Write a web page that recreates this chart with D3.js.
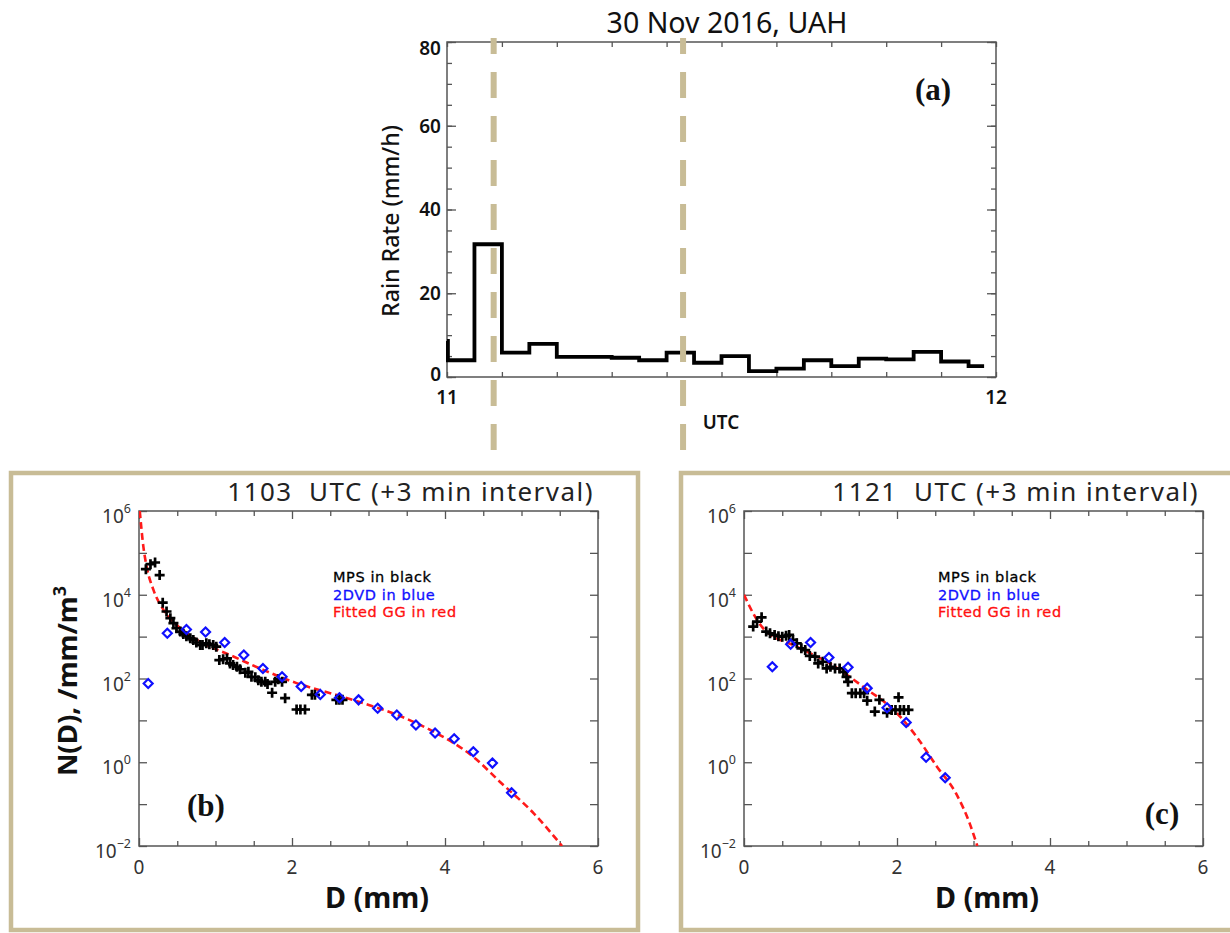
<!DOCTYPE html>
<html>
<head>
<meta charset="utf-8">
<script src="https://cdn.jsdelivr.net/npm/d3@7"></script>
<style>
  body { margin: 0; background: #fff; }
  svg { display: block; }
  text { white-space: pre; }
</style>
</head>
<body>
<svg id="fig" width="1230" height="933"></svg>
<script>
// ---------------- Panel (a): MPS rain rate, 30 Nov 2016 ----------------
const rainMinutes = [0, 0.1, 3, 6, 9, 12, 15, 18, 21, 24, 27, 30, 33, 36, 39, 42, 45, 48, 51, 54, 57, 58.7];
const rainRate    = [8.6, 4.0, 31.7, 5.8, 7.9, 4.8, 4.8, 4.6, 4.0, 5.8, 3.4, 5.0, 1.4, 2.0, 4.0, 2.6, 4.4, 4.2, 6.0, 3.7, 2.6, 2.6];
const rateTicks   = [0, 20, 40, 60, 80];
const hourTicks   = [0, 60];
const hourLabels  = ["11", "12"];
const sampleMinutes = [5.1, 25.8];   // times of the two DSD samples below

// ---------------- Panel (b): 1103 UTC ----------------
const dvdD_b    = [0.12, 0.37, 0.62, 0.87, 1.12, 1.37, 1.62, 1.87, 2.12, 2.37, 2.62, 2.87, 3.12, 3.37, 3.62, 3.87, 4.12, 4.37, 4.62, 4.87];
const dvdLogN_b = [1.88, 3.08, 3.17, 3.11, 2.86, 2.56, 2.24, 2.04, 1.81, 1.62, 1.54, 1.49, 1.29, 1.13, 0.89, 0.70, 0.56, 0.25, -0.02, -0.73];
const mpsD_b    = [0.09, 0.15, 0.21, 0.27, 0.31, 0.36, 0.41, 0.45, 0.49, 0.54, 0.58, 0.62, 0.67, 0.71, 0.75, 0.80, 0.83, 0.88, 0.92, 0.97,
                   1.01, 1.05, 1.10, 1.15, 1.19, 1.23, 1.28, 1.32, 1.39, 1.43, 1.47, 1.52, 1.56, 1.60, 1.65, 1.68, 1.74, 1.78, 1.82, 1.87,
                   1.91, 2.06, 2.11, 2.17, 2.26, 2.30, 2.58, 2.62, 2.66];
const mpsLogN_b = [4.61, 4.73, 4.77, 4.47, 3.81, 3.60, 3.44, 3.32, 3.20, 3.12, 3.06, 3.01, 2.96, 2.92, 2.86, 2.80, 2.80, 2.84, 2.82, 2.80,
                   2.76, 2.44, 2.46, 2.48, 2.36, 2.32, 2.28, 2.22, 2.14, 2.16, 2.04, 2.03, 1.96, 1.92, 1.92, 1.87, 1.66, 1.92, 1.98, 1.92,
                   1.53, 1.26, 1.26, 1.26, 1.61, 1.61, 1.49, 1.49, 1.49];
const fitD_b    = [0.01, 0.057, 0.10, 0.19, 0.32, 0.54, 0.84, 1.19, 1.63, 2.06, 2.50, 2.93, 3.32, 3.85, 4.37, 4.72, 5.16, 5.53];
const fitLogN_b = [6.0, 5.15, 4.67, 4.11, 3.64, 3.20, 2.84, 2.56, 2.20, 1.89, 1.65, 1.41, 1.17, 0.73, 0.13, -0.47, -1.22, -2.0];

// ---------------- Panel (c): 1121 UTC ----------------
const dvdD_c    = [0.37, 0.61, 0.87, 1.11, 1.36, 1.61, 1.87, 2.12, 2.38, 2.63];
const dvdLogN_c = [2.28, 2.82, 2.86, 2.50, 2.27, 1.77, 1.30, 0.95, 0.12, -0.37];
const mpsD_c    = [0.12, 0.17, 0.23, 0.29, 0.34, 0.40, 0.45, 0.50, 0.55, 0.59, 0.64, 0.69, 0.75, 0.80, 0.86, 0.93, 0.97, 1.03, 1.08, 1.13,
                   1.19, 1.25, 1.30, 1.34, 1.36, 1.41, 1.46, 1.52, 1.57, 1.61, 1.71, 1.77, 1.87, 1.93, 1.98, 2.02, 2.04, 2.09, 2.15];
const mpsLogN_c = [3.24, 3.36, 3.46, 3.12, 3.08, 3.04, 3.01, 3.00, 3.02, 3.04, 2.92, 2.84, 2.72, 2.68, 2.54, 2.52, 2.36, 2.40, 2.24, 2.28,
                   2.24, 2.24, 2.16, 2.04, 1.92, 1.65, 1.65, 1.65, 1.65, 1.47, 1.21, 1.49, 1.18, 1.25, 1.25, 1.55, 1.25, 1.25, 1.25];
const fitD_c    = [0.0, 0.17, 0.25, 0.69, 1.12, 1.56, 2.00, 2.26, 2.52, 2.77, 2.95, 3.05];
const fitLogN_c = [4.0, 3.40, 3.20, 2.76, 2.36, 1.80, 1.17, 0.60, -0.10, -0.74, -1.46, -2.0];

const dTicks      = [0, 2, 4, 6];
const dMinorTicks = [0.5, 1, 1.5, 2.5, 3, 3.5, 4.5, 5, 5.5];
const decadeLabels = [-2, 0, 2, 4, 6];
const decadeMinor  = [-1, 1, 3, 5];
const legendLines = [["MPS in black", "#000"], ["2DVD in blue", "#1010ff"], ["Fitted GG in red", "#ff1010"]];

// ---------------- styles ----------------
const SANS = "'Noto Sans', 'DejaVu Sans', sans-serif";
const SERIF = "'Liberation Serif', 'DejaVu Serif', serif";
const TAN = "#c8bc96";
const AXIS = "#555";

const svg = d3.select("#fig");

// scale a text's font size so that it spans the given width
function fitWidth(t, w) {
  const fs = parseFloat(t.attr("font-size"));
  const bw = t.node().getBBox().width;
  if (bw > 0) t.attr("font-size", (fs * w / bw).toFixed(2));
  return t;
}

// ================= Panel (a) =================
const A = {left: 447, right: 996, top: 42, bottom: 377};
const xa = d3.scaleLinear().domain([0, 60]).range([A.left, A.right]);
const ya = d3.scaleLinear().domain([0, 80]).range([A.bottom, A.top]);
const ga = svg.append("g");

// inward ticks on all four sides
const minorRate = d3.range(0, 81, 5);
ga.append("g").attr("transform", `translate(${A.left},0)`)
  .call(d3.axisLeft(ya).tickValues(minorRate).tickSize(-5).tickFormat(""));
ga.append("g").attr("transform", `translate(${A.right},0)`)
  .call(d3.axisRight(ya).tickValues(minorRate).tickSize(-5).tickFormat(""));
ga.append("g").attr("transform", `translate(${A.left},0)`)
  .call(d3.axisLeft(ya).tickValues(rateTicks).tickSize(-9).tickFormat(""));
ga.append("g").attr("transform", `translate(${A.right},0)`)
  .call(d3.axisRight(ya).tickValues(rateTicks).tickSize(-9).tickFormat(""));
const minorMin = d3.range(0, 61, 6);
ga.append("g").attr("transform", `translate(0,${A.bottom})`)
  .call(d3.axisBottom(xa).tickValues(minorMin).tickSize(-5).tickFormat(""));
ga.append("g").attr("transform", `translate(0,${A.top})`)
  .call(d3.axisTop(xa).tickValues(minorMin).tickSize(-5).tickFormat(""));
ga.selectAll(".domain").remove();
ga.selectAll(".tick line").attr("stroke", AXIS).attr("stroke-width", 1.3);
ga.append("rect").attr("x", A.left).attr("y", A.top)
  .attr("width", A.right - A.left).attr("height", A.bottom - A.top)
  .attr("fill", "none").attr("stroke", AXIS).attr("stroke-width", 1.5);

// y tick labels
ga.selectAll(".ylab").data(rateTicks).join("text")
  .attr("x", A.left - 6).attr("y", d => ya(d) + (d === 80 ? 6 : d === 0 ? -3 : 0))
  .attr("dy", "0.36em").attr("text-anchor", "end")
  .attr("font-family", SANS).attr("font-weight", 600).attr("font-size", 19).attr("fill", "#111")
  .text(d => d);
// hour labels
ga.selectAll(".xlab").data(hourTicks).join("text")
  .attr("x", d => xa(d)).attr("y", 404).attr("text-anchor", "middle")
  .attr("font-family", SANS).attr("font-weight", 600).attr("font-size", 19).attr("fill", "#111")
  .text((d, i) => hourLabels[i]);
const utc = ga.append("text").attr("x", 721).attr("y", 429).attr("text-anchor", "middle")
  .attr("font-family", SANS).attr("font-weight", 600).attr("font-size", 15).attr("fill", "#111")
  .text("UTC");
fitWidth(utc, 37);
const rr = ga.append("text").attr("transform", "translate(399,221) rotate(-90)").attr("text-anchor", "middle")
  .attr("font-family", SANS).attr("font-weight", 500).attr("font-size", 19).attr("fill", "#111").text("Rain Rate (mm/h)");
fitWidth(rr, 192);
const ta = ga.append("text").attr("x", 727).attr("y", 33).attr("text-anchor", "middle")
  .attr("font-family", SANS).attr("font-size", 22).attr("fill", "#111").text("30 Nov 2016, UAH");
fitWidth(ta, 241);
ga.append("text").attr("x", 933).attr("y", 100).attr("text-anchor", "middle")
  .attr("font-family", SERIF).attr("font-weight", "bold").attr("font-size", 31).attr("fill", "#111")
  .text("(a)");

// rain-rate step line
const rainPts = rainMinutes.map((t, i) => [t, rainRate[i]]);
ga.append("path").datum(rainPts)
  .attr("d", d3.line().x(d => xa(d[0])).y(d => ya(d[1])).curve(d3.curveStepAfter))
  .attr("fill", "none").attr("stroke", "#000").attr("stroke-width", 3.8);

// sample-time markers
svg.selectAll(".marker").data(sampleMinutes).join("line")
  .attr("x1", d => xa(d)).attr("x2", d => xa(d)).attr("y1", 38).attr("y2", 453)
  .attr("stroke", TAN).attr("stroke-width", 6)
  .attr("stroke-dasharray", "26,18").attr("stroke-dashoffset", 10);

// ================= Panels (b) and (c) =================
function dsdPanel(cfg) {
  const P = {left: cfg.left, right: cfg.left + 459, top: 511, bottom: 846};
  const x = d3.scaleLinear().domain([0, 6]).range([P.left, P.right]);
  const y = d3.scaleLog().domain([1e-2, 1e6]).range([P.bottom, P.top]);
  const g = svg.append("g");

  // tan frame
  g.append("rect").attr("x", cfg.frame[0]).attr("y", 473)
    .attr("width", cfg.frame[1] - cfg.frame[0]).attr("height", 457)
    .attr("fill", "none").attr("stroke", TAN).attr("stroke-width", 4.5);

  const clipId = "clip" + cfg.id;
  g.append("clipPath").attr("id", clipId).append("rect")
    .attr("x", P.left).attr("y", P.top).attr("width", P.right - P.left).attr("height", P.bottom - P.top);

  // ticks
  const allDec = decadeLabels.concat(decadeMinor).map(e => Math.pow(10, e));
  const ax = g.append("g");
  ax.append("g").attr("transform", `translate(${P.left},0)`)
    .call(d3.axisLeft(y).tickValues(allDec).tickSize(-8).tickFormat(""));
  ax.append("g").attr("transform", `translate(${P.right},0)`)
    .call(d3.axisRight(y).tickValues(allDec).tickSize(-8).tickFormat(""));
  ax.append("g").attr("transform", `translate(0,${P.bottom})`)
    .call(d3.axisBottom(x).tickValues(dMinorTicks).tickSize(-5).tickFormat(""));
  ax.append("g").attr("transform", `translate(0,${P.top})`)
    .call(d3.axisTop(x).tickValues(dMinorTicks).tickSize(-5).tickFormat(""));
  ax.append("g").attr("transform", `translate(0,${P.bottom})`)
    .call(d3.axisBottom(x).tickValues(dTicks).tickSize(-8).tickFormat(""));
  ax.append("g").attr("transform", `translate(0,${P.top})`)
    .call(d3.axisTop(x).tickValues(dTicks).tickSize(-8).tickFormat(""));
  ax.selectAll(".domain").remove();
  ax.selectAll(".tick line").attr("stroke", AXIS).attr("stroke-width", 1.3);
  g.append("rect").attr("x", P.left).attr("y", P.top)
    .attr("width", P.right - P.left).attr("height", P.bottom - P.top)
    .attr("fill", "none").attr("stroke", AXIS).attr("stroke-width", 1.5);

  // decade labels
  const lab = g.selectAll(".ylab").data(decadeLabels).join("text")
    .attr("x", P.left - 8).attr("y", e => y(Math.pow(10, e)) + 12).attr("text-anchor", "end")
    .attr("font-family", SANS).attr("font-size", 19).attr("fill", "#333");
  lab.append("tspan").text("10");
  lab.append("tspan").attr("dy", -10).attr("font-size", 12.5).text(e => e < 0 ? "\u2212" + (-e) : String(e));
  g.selectAll(".xlab").data(dTicks).join("text")
    .attr("x", d => x(d)).attr("y", 874).attr("text-anchor", "middle")
    .attr("font-family", SANS).attr("font-size", 19).attr("fill", "#333")
    .text(d => d);

  // axis titles
  const xt = g.append("text").attr("x", cfg.xTitleX).attr("y", 908).attr("text-anchor", "middle")
    .attr("font-family", SANS).attr("font-weight", "bold").attr("font-size", 28).attr("fill", "#111")
    .text("D (mm)");
  fitWidth(xt, 104);
  if (cfg.yTitle) {
    const yt = g.append("text").attr("transform", "translate(77,681) rotate(-90)").attr("text-anchor", "middle")
      .attr("font-family", SANS).attr("font-weight", "bold").attr("font-size", 28).attr("fill", "#111");
    yt.append("tspan").text("N(D), /mm/m");
    yt.append("tspan").attr("dy", -11).attr("font-size", 18).text("3");
    fitWidth(yt, 190);
  }

  // panel title
  const tt = g.append("text").attr("x", P.right - 4).attr("y", 501).attr("text-anchor", "end")
    .attr("font-family", SANS).attr("font-size", 22).attr("letter-spacing", 1.5).attr("fill", "#222")
    .text(cfg.title);
  fitWidth(tt, 374);

  // legend
  legendLines.forEach((l, i) => {
    g.append("text").attr("x", P.left + 194).attr("y", 582 + i * 17.5)
      .attr("font-family", "'DejaVu Sans', sans-serif").attr("font-size", 14.5)
      .attr("letter-spacing", 0.6).attr("fill", l[1])
      .attr("stroke", l[1]).attr("stroke-width", 0.3)
      .text(l[0]);
  });

  // panel letter
  g.append("text").attr("x", cfg.letterX).attr("y", cfg.letterY).attr("text-anchor", "middle")
    .attr("font-family", SERIF).attr("font-weight", "bold").attr("font-size", 31).attr("fill", "#111")
    .text(cfg.letter);

  const plot = g.append("g").attr("clip-path", `url(#${clipId})`);

  // fitted generalized gamma (dashed red)
  const fitPts = cfg.fitD.map((d, i) => [d, Math.pow(10, cfg.fitLogN[i])]);
  plot.append("path").datum(fitPts)
    .attr("d", d3.line().x(d => x(d[0])).y(d => y(d[1])).curve(d3.curveMonotoneX))
    .attr("fill", "none").attr("stroke", "#ff1a1a").attr("stroke-width", 2.6)
    .attr("stroke-dasharray", "7,4");

  // MPS crosses (black)
  const mps = cfg.mpsD.map((d, i) => [d, Math.pow(10, cfg.mpsLogN[i])]);
  plot.selectAll(".mps").data(mps).join("path")
    .attr("transform", d => `translate(${x(d[0])},${y(d[1])})`)
    .attr("d", "M-5,0H5M0,-5V5")
    .attr("stroke", "#000").attr("stroke-width", 2.7).attr("fill", "none");

  // 2DVD diamonds (blue)
  const dvd = cfg.dvdD.map((d, i) => [d, Math.pow(10, cfg.dvdLogN[i])]);
  plot.selectAll(".dvd").data(dvd).join("path")
    .attr("transform", d => `translate(${x(d[0])},${y(d[1])})`)
    .attr("d", "M0,-4.5L4.5,0L0,4.5L-4.5,0Z")
    .attr("stroke", "#1010ff").attr("stroke-width", 2.2).attr("fill", "none");
}

dsdPanel({id: "b", left: 139, frame: [11, 638], title: "1103  UTC (+3 min interval)",
  xTitleX: 377, yTitle: true, letter: "(b)", letterX: 206, letterY: 816,
  dvdD: dvdD_b, dvdLogN: dvdLogN_b, mpsD: mpsD_b, mpsLogN: mpsLogN_b, fitD: fitD_b, fitLogN: fitLogN_b});
dsdPanel({id: "c", left: 744, frame: [681, 1300], title: "1121  UTC (+3 min interval)",
  xTitleX: 987, yTitle: false, letter: "(c)", letterX: 1162, letterY: 824,
  dvdD: dvdD_c, dvdLogN: dvdLogN_c, mpsD: mpsD_c, mpsLogN: mpsLogN_c, fitD: fitD_c, fitLogN: fitLogN_c});
</script>
</body>
</html>
